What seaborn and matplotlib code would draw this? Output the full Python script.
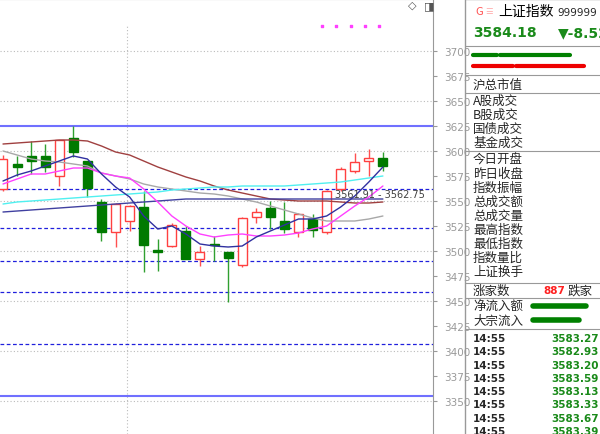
import matplotlib
matplotlib.use("Agg")
import matplotlib.pyplot as plt
from matplotlib.lines import Line2D
import seaborn as sns
import pandas as pd
import numpy as np

sns.set_style("white")
plt.rcParams['font.family'] = ['Noto Sans CJK SC', 'DejaVu Sans']

opens  = [3562,3587,3595,3595,3575,3613,3590,3549,3519,3530,3544,3501,3505,3520,3492,3507,3499,3486,3534,3543,3530,3519,3532,3519,3562,3580,3590,3593]
closes = [3592,3584,3590,3584,3611,3599,3563,3519,3547,3545,3506,3499,3526,3492,3499,3506,3493,3533,3539,3534,3522,3537,3521,3560,3582,3589,3593,3585]
highs  = [3596,3595,3610,3607,3611,3625,3590,3552,3548,3546,3560,3512,3528,3525,3505,3515,3499,3534,3543,3550,3549,3538,3537,3561,3584,3598,3602,3599]
lows   = [3560,3575,3577,3579,3565,3594,3554,3510,3504,3520,3479,3480,3504,3492,3485,3490,3449,3484,3528,3522,3518,3514,3514,3517,3560,3578,3575,3580]
ma5  = [3570,3576,3580,3585,3590,3595,3592,3577,3564,3554,3535,3522,3525,3517,3507,3505,3504,3505,3514,3520,3526,3532,3532,3535,3544,3555,3569,3584]
ma10 = [3567,3572,3577,3577,3580,3583,3583,3578,3575,3573,3562,3549,3535,3525,3517,3514,3516,3517,3515,3515,3516,3518,3522,3525,3535,3545,3554,3565]
ma20 = [3600,3596,3592,3590,3589,3587,3585,3578,3575,3572,3567,3564,3562,3560,3558,3557,3555,3552,3549,3545,3541,3537,3533,3530,3530,3530,3532,3535]
ma60 = [3607,3608,3609,3610,3611,3611,3610,3605,3599,3596,3590,3584,3579,3574,3570,3565,3561,3558,3555,3552,3551,3550,3550,3550,3549,3548,3548,3549]
cyan = [3547,3549,3550,3551,3552,3553,3554,3555,3556,3557,3558,3559,3561,3562,3563,3564,3564,3565,3565,3565,3565,3566,3567,3568,3569,3571,3573,3575]
navy = [3539,3540,3541,3542,3543,3544,3545,3546,3547,3548,3549,3550,3551,3552,3552,3552,3552,3552,3552,3552,3552,3552,3552,3552,3552,3552,3552,3552]
solid_levels = [3625, 3355]
dashed_levels = [3562, 3523, 3490, 3459, 3407]
yticks = [3350,3375,3400,3425,3450,3475,3500,3525,3550,3575,3600,3625,3650,3675,3700]

times = ["14:55"]*8
ticks_vals = ["3583.27","3582.93","3583.20","3583.59","3583.13","3583.33","3583.67","3583.39"]
labels1 = ["A股成交","B股成交","国债成交","基金成交"]
labels2 = ["今日开盘","昨日收盘","指数振幅","总成交额","总成交量","最高指数","最低指数","指数量比","上证换手"]

df = pd.DataFrame({"i": np.arange(len(opens)), "ma5": ma5, "ma10": ma10, "ma20": ma20,
                   "ma60": ma60, "cyan": cyan, "navy": navy})

fig = plt.figure(figsize=(6, 4.35), dpi=100)
ax = fig.add_axes([0, 0, 433/600, 1])
ax.set_xlim(-0.213, 30.56)
ax.set_ylim(3317, 3752)

for y in range(3350, 3701, 50):
    ax.axhline(y, color="#bbbbbb", lw=0.8, ls=(0, (1, 2)))
ax.axvline(8.8, ymax=(3752-27-3317)/435, color="#bbbbbb", lw=0.8, ls=(0, (1, 2)))
for y in solid_levels:
    ax.axhline(y, color="#7070ff", lw=1.5)
for y in dashed_levels:
    ax.axhline(y, color="#2020dd", lw=0.9, ls=(0, (3, 2)))

for i in range(len(opens)):
    o, c, h, l = opens[i], closes[i], highs[i], lows[i]
    up = c >= o
    col = "#ff4040" if up else "#007a00"
    wick = "#ff5050" if up else "#30a030"
    ax.vlines(i, l, h, color=wick, lw=1, zorder=3)
    if up:
        ax.bar(i, max(c-o, 1), bottom=o, width=0.64, facecolor="white", edgecolor=col, lw=1, zorder=4)
    else:
        ax.bar(i, max(o-c, 1.2), bottom=c, width=0.64, facecolor=col, edgecolor=col, lw=1, zorder=4)

for colname, color in [("ma60", "#a04040"), ("ma20", "#a8a8a8"), ("cyan", "#50f0f0"),
                       ("navy", "#4040a0"), ("ma10", "#ff40ff"), ("ma5", "#3030a0")]:
    sns.lineplot(data=df, x="i", y=colname, ax=ax, color=color, lw=1, zorder=5, legend=False)

ax.text(23.6, 3554, "3561.91 - 3562.75", fontsize=7, color="#404040", family="DejaVu Sans", zorder=6)
ax.scatter([22.7, 23.7, 24.7, 25.7, 26.7], [3725]*5, marker="s", s=3, color="#ff40ff")
ax.text(28.8, 3743, "◇", fontsize=8, color="#555555", family="DejaVu Sans")
ax.text(29.9, 3743, "◨", fontsize=8, color="#555555", family="DejaVu Sans")

ax.set_xlabel(""); ax.set_ylabel(""); ax.set_xticks([])
ax.yaxis.tick_right()
ax.set_yticks(yticks)
ax.set_yticklabels([str(t) for t in yticks], color="#999999", fontsize=7.5, family="DejaVu Sans")
ax.tick_params(axis="y", length=3, color="#999999", pad=5)
for s in ["left", "bottom"]:
    ax.spines[s].set_visible(False)
ax.spines["top"].set_color("#999999")
ax.spines["right"].set_color("#999999")

def fy(p): return 1 - p/435
def fx(p): return p/600

fig.add_artist(Line2D([fx(465), fx(465)], [0, 1], color="#999999", lw=1))
fig.add_artist(Line2D([fx(465), 1], [0.999, 0.999], color="#999999", lw=1))
for yy in [47, 76, 94, 152, 284, 299, 330]:
    fig.add_artist(Line2D([fx(465), 1], [fy(yy), fy(yy)], color="#999999", lw=0.8))

fig.text(fx(475), fy(12), "G", color="#ff5050", fontsize=8, va="center")
fig.text(fx(485), fy(12), "☰", color="#ffaaaa", fontsize=6, va="center", family="DejaVu Sans")
fig.text(fx(498), fy(12), "上证指数", fontsize=10, va="center", color="black")
fig.text(fx(557), fy(13), "999999", fontsize=7.5, va="center", family="DejaVu Sans")
fig.text(fx(473), fy(33), "3584.18", fontsize=10, va="center", color="#1a8a1a", weight="bold", family="DejaVu Sans")
fig.text(fx(558), fy(33), "▼-8.52", fontsize=10, va="center", color="#1a8a1a", weight="bold", family="DejaVu Sans")
fig.add_artist(Line2D([fx(473), fx(497)], [fy(56)]*2, color="#008000", lw=3))
fig.add_artist(Line2D([fx(500), fx(570)], [fy(56)]*2, color="#008000", lw=3))
fig.add_artist(Line2D([fx(473), fx(513)], [fy(67)]*2, color="#ee0000", lw=3))
fig.add_artist(Line2D([fx(516), fx(584)], [fy(67)]*2, color="#ee0000", lw=3))
fig.text(fx(473), fy(85), "沪总市值", fontsize=9, va="center")
for k, t in enumerate(labels1):
    fig.text(fx(473), fy(101 + 14*k), t, fontsize=9, va="center")
for k, t in enumerate(labels2):
    fig.text(fx(473), fy(160 + 14.1*k), t, fontsize=9, va="center")
fig.text(fx(473), fy(291), "涨家数", fontsize=9, va="center")
fig.text(fx(565), fy(291), "887", fontsize=7.5, va="center", color="#ff2020", weight="bold", family="DejaVu Sans", ha="right")
fig.text(fx(568), fy(291), "跌家", fontsize=9, va="center")
fig.text(fx(473), fy(307), "净流入额", fontsize=9, va="center")
fig.text(fx(473), fy(321), "大宗流入", fontsize=9, va="center")
fig.add_artist(Line2D([fx(533), fx(586)], [fy(307)]*2, color="#008000", lw=4))
fig.add_artist(Line2D([fx(533), fx(579)], [fy(321)]*2, color="#008000", lw=4))
for k in range(len(times)):
    yy = fy(339 + 13.3*k)
    fig.text(fx(473), yy, times[k], fontsize=7.5, va="center", weight="bold", family="DejaVu Sans")
    fig.text(fx(599), yy, ticks_vals[k], fontsize=7.5, va="center", ha="right", color="#1a8a1a", weight="bold", family="DejaVu Sans")

fig.savefig("out.png", dpi=100)
